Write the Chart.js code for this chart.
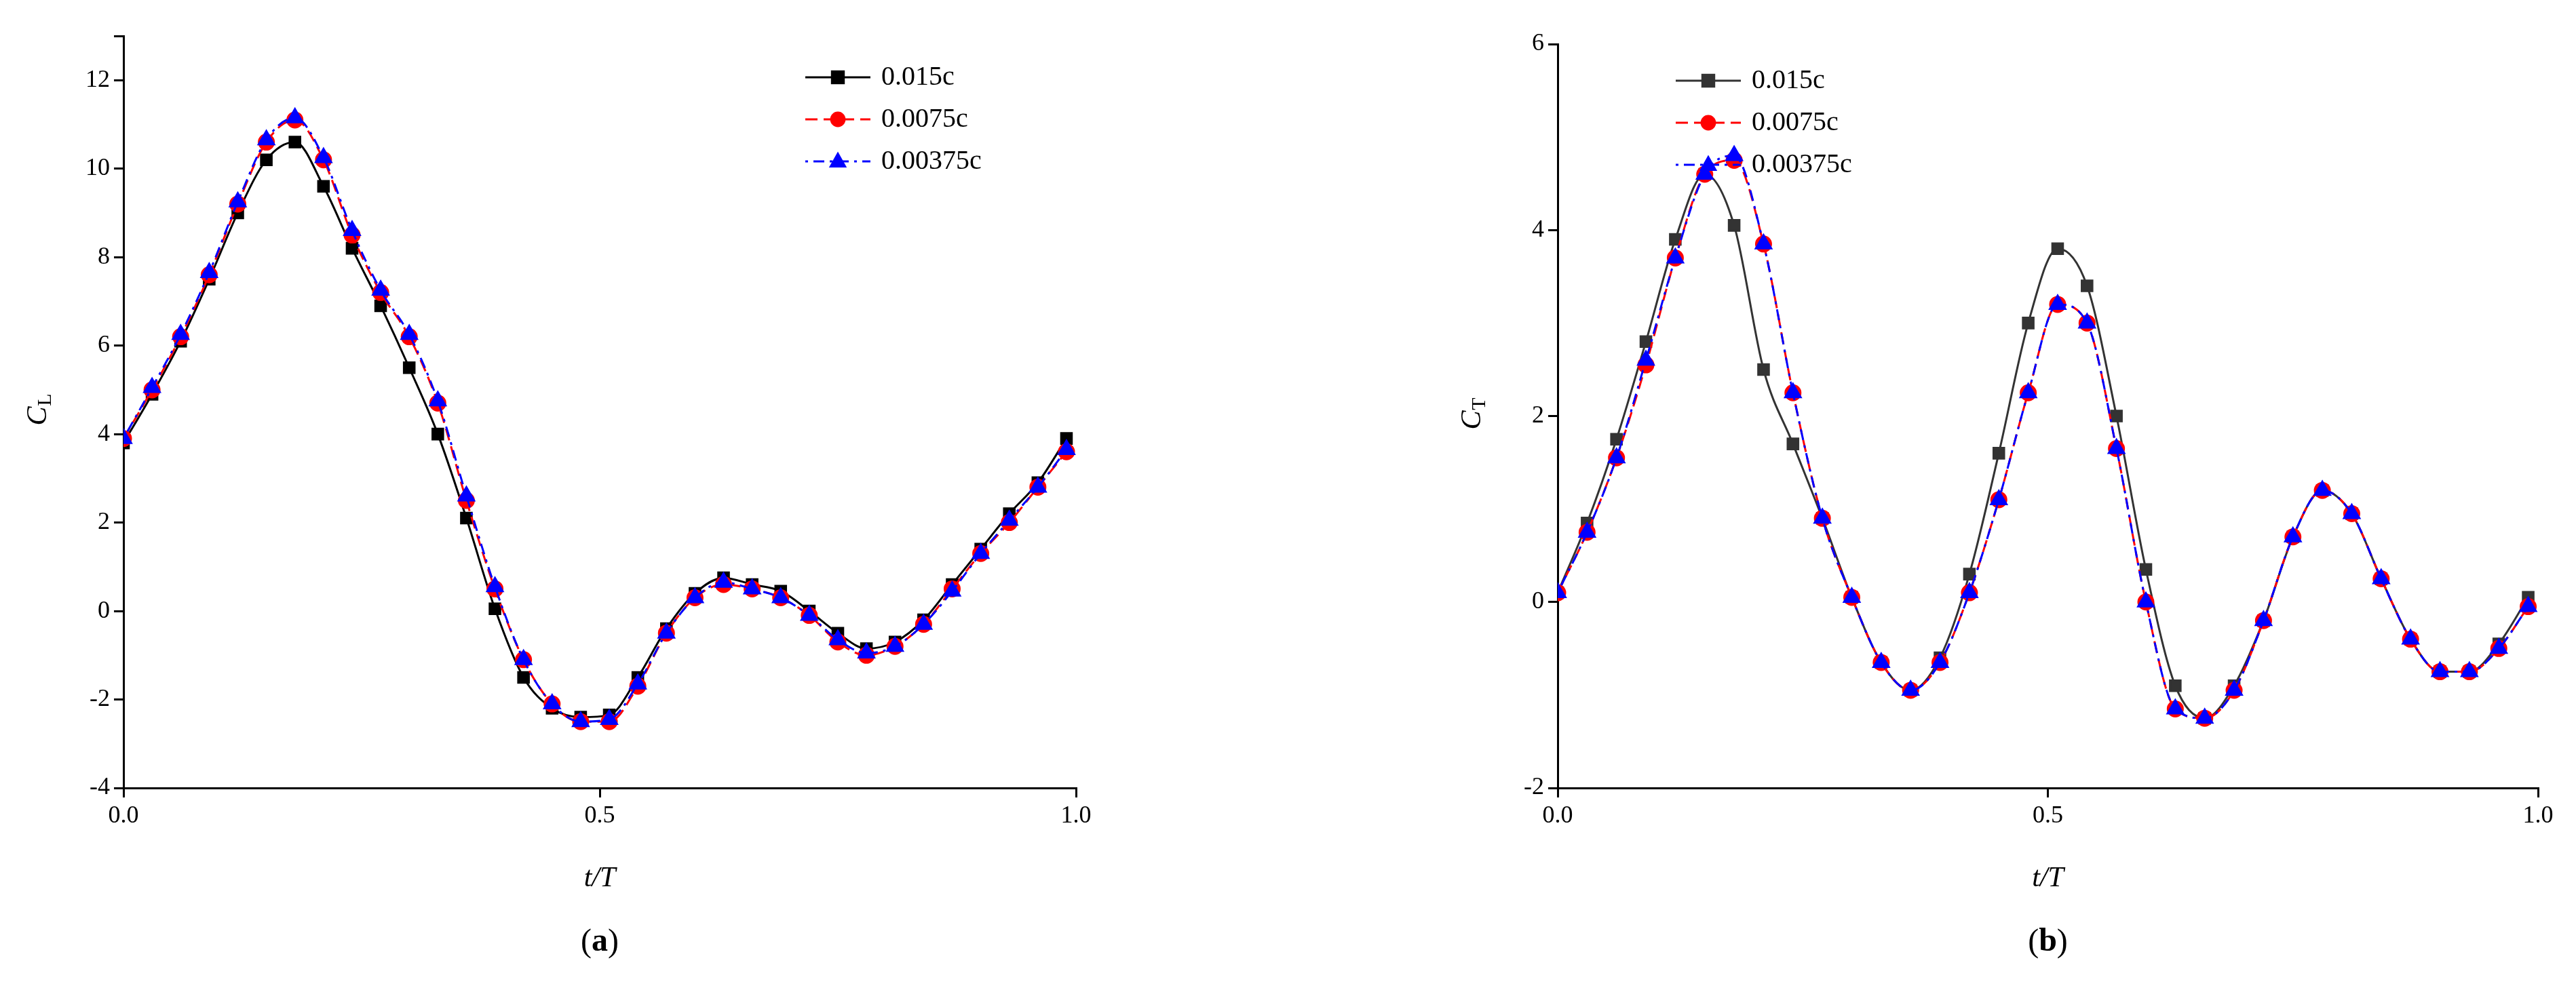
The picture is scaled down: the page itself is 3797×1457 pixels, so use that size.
<!DOCTYPE html>
<html><head><meta charset="utf-8">
<script src="https://cdn.jsdelivr.net/npm/chart.js@4/dist/chart.umd.min.js"></script>
<style>
body{margin:0;background:#fff;width:3797px;height:1457px;position:relative;overflow:hidden}
.box{position:absolute;top:0;width:1898px;height:1457px}
</style></head><body>
<div class="box" style="left:0"><canvas id="ca"></canvas></div>
<div class="box" style="left:1898px"><canvas id="cb"></canvas></div>
<script>
// sample times
const tValues = [0,0.03,0.06,0.09,0.12,0.15,0.18,0.21,0.24,0.27,0.30,0.33,0.36,0.39,0.42,0.45,0.48,0.51,0.54,0.57,0.60,0.63,0.66,0.69,0.72,0.75,0.78,0.81,0.84,0.87,0.90,0.93,0.96,0.99];
const seriesNames = ['0.015c', '0.0075c', '0.00375c'];

// (a) lift coefficient
const clCoarse = [3.8,4.9,6.1,7.5,9.0,10.2,10.6,9.6,8.2,6.9,5.5,4.0,2.1,0.05,-1.5,-2.2,-2.4,-2.35,-1.5,-0.4,0.4,0.75,0.6,0.45,0.0,-0.5,-0.85,-0.7,-0.2,0.6,1.4,2.2,2.9,3.9];
const clMedium = [3.9,5.0,6.2,7.6,9.2,10.6,11.1,10.2,8.5,7.2,6.2,4.7,2.5,0.5,-1.1,-2.1,-2.5,-2.5,-1.7,-0.5,0.3,0.6,0.5,0.3,-0.1,-0.7,-1.0,-0.8,-0.3,0.5,1.3,2.0,2.8,3.6];
const clFine = [3.9,5.05,6.25,7.65,9.25,10.65,11.15,10.25,8.6,7.25,6.25,4.75,2.6,0.55,-1.1,-2.1,-2.5,-2.45,-1.65,-0.5,0.3,0.65,0.5,0.3,-0.1,-0.65,-0.95,-0.8,-0.3,0.45,1.3,2.05,2.8,3.65];

// (b) thrust coefficient
const ctCoarse = [0.1,0.85,1.75,2.8,3.9,4.6,4.05,2.5,1.7,0.9,0.05,-0.65,-0.95,-0.6,0.3,1.6,3.0,3.8,3.4,2.0,0.35,-0.9,-1.25,-0.9,-0.2,0.7,1.2,0.95,0.25,-0.4,-0.75,-0.75,-0.45,0.05];
const ctMedium = [0.1,0.75,1.55,2.55,3.7,4.6,4.75,3.85,2.25,0.9,0.05,-0.65,-0.95,-0.65,0.1,1.1,2.25,3.2,3.0,1.65,0.0,-1.15,-1.25,-0.95,-0.2,0.7,1.2,0.95,0.25,-0.4,-0.75,-0.75,-0.5,-0.05];
const ctFine = [0.1,0.75,1.55,2.6,3.7,4.6,4.8,3.85,2.25,0.9,0.05,-0.65,-0.95,-0.65,0.1,1.1,2.25,3.2,3.0,1.65,0.0,-1.15,-1.25,-0.95,-0.2,0.7,1.2,0.95,0.25,-0.4,-0.75,-0.75,-0.5,-0.05];

const FONT = '"Liberation Serif", "DejaVu Serif", serif';

function makeSets(values, firstColor){
  const styles = [
    {color:firstColor, dash:[], marker:'rect', r:11},
    {color:'#ff0000', dash:[18,9], marker:'circle', r:11},
    {color:'#0000ff', dash:[4,8,16,8], marker:'triangle', r:13}
  ];
  return values.map((v,i)=>({
    label: seriesNames[i],
    data: v.map((y,k)=>({x:tValues[k], y:y})),
    order: 2 - i,
    borderColor: styles[i].color,
    backgroundColor: styles[i].color,
    borderDash: styles[i].dash,
    borderWidth: 3,
    pointStyle: styles[i].marker,
    pointRadius: styles[i].r,
    tension: 0.4,
    cubicInterpolationMode: 'monotone'
  }));
}

// legend, axis titles and panel label drawn by hand
function decorPlugin(opts){
  return {
    id:'decor',
    afterDraw(chart){
      const ctx = chart.ctx, a = chart.chartArea;
      ctx.save();
      ctx.fillStyle = '#000';
      ctx.textBaseline = 'middle';
      chart.data.datasets.forEach((ds,i)=>{
        const y = opts.legY + i*62;
        ctx.strokeStyle = ds.borderColor; ctx.lineWidth = 3;
        ctx.setLineDash(ds.borderDash);
        ctx.beginPath(); ctx.moveTo(opts.legX, y); ctx.lineTo(opts.legX+96, y); ctx.stroke();
        ctx.setLineDash([]);
        ctx.fillStyle = ds.borderColor;
        const cx = opts.legX+48, r = 12;
        ctx.beginPath();
        if (ds.pointStyle==='rect') ctx.rect(cx-r*0.85, y-r*0.85, r*1.7, r*1.7);
        else if (ds.pointStyle==='circle') ctx.arc(cx, y, r*0.95, 0, Math.PI*2);
        else { ctx.moveTo(cx, y-r*1.2); ctx.lineTo(cx+r*1.1, y+r*0.75); ctx.lineTo(cx-r*1.1, y+r*0.75); ctx.closePath(); }
        ctx.fill();
        ctx.fillStyle = '#000';
        ctx.font = '40px ' + FONT;
        ctx.textAlign = 'left';
        ctx.fillText(ds.label, opts.legX+112, y);
      });
      const mx = (a.left+a.right)/2;
      ctx.textAlign = 'center';
      ctx.font = 'italic 42px ' + FONT;
      ctx.fillText('t/T', mx, 1296);
      ctx.font = '48px ' + FONT;
      const w1 = ctx.measureText('(').width;
      ctx.font = 'bold 48px ' + FONT;
      const w2 = ctx.measureText(opts.panel).width;
      const x0 = mx - (w1*2+w2)/2;
      ctx.textAlign = 'left';
      ctx.font = '48px ' + FONT; ctx.fillText('(', x0, 1390);
      ctx.font = 'bold 48px ' + FONT; ctx.fillText(opts.panel, x0+w1, 1390);
      ctx.font = '48px ' + FONT; ctx.fillText(')', x0+w1+w2, 1390);
      ctx.translate(a.left-125, (a.top+a.bottom)/2);
      ctx.rotate(-Math.PI/2);
      ctx.font = 'italic 42px ' + FONT;
      ctx.textAlign = 'center';
      ctx.fillText('C', -6, 0);
      ctx.font = '30px ' + FONT;
      ctx.fillText(opts.sub, 18, 10);
      ctx.restore();
    }
  };
}

function buildChart(id, sets, yMin, yMax, yTop, padLeft, padTop, padRight, decor){
  new Chart(document.getElementById(id), {
    type:'line',
    data:{datasets:sets},
    options:{
      responsive:false, animation:false,
      layout:{padding:{left:0, top:padTop, right:padRight, bottom:0}},
      plugins:{legend:{display:false}, tooltip:{enabled:false}},
      scales:{
        x:{type:'linear', min:0, max:1,
          afterFit(s){ s.height = 295; },
          border:{color:'#000', width:3},
          grid:{drawOnChartArea:false, color:'#000', lineWidth:3, tickLength:14},
          ticks:{stepSize:0.5, color:'#000', font:{family:FONT, size:36}, callback:v=>v.toFixed(1), padding:6}},
        y:{min:yMin, max:yMax,
          afterFit(s){ s.width = padLeft; },
          border:{color:'#000', width:3},
          grid:{drawOnChartArea:false, color:'#000', lineWidth:3, tickLength:14},
          ticks:{stepSize:2, color:'#000', font:{family:FONT, size:36}, padding:6,
            callback:v=>(v>yTop ? '' : v)}}
      }
    },
    plugins:[decorPlugin(decor)]
  });
}

const ca = document.getElementById('ca'), cb = document.getElementById('cb');
ca.width = cb.width = 1898; ca.height = cb.height = 1457;

buildChart('ca', makeSets([clCoarse, clMedium, clFine], '#000000'), -4, 13, 12, 182, 53, 312,
  {legX:1187, legY:114, panel:'a', sub:'L'});
buildChart('cb', makeSets([ctCoarse, ctMedium, ctFine], '#333333'), -2, 6, 6, 398, 65, 55,
  {legX:2470-1898, legY:119, panel:'b', sub:'T'});
</script>
</body></html>
